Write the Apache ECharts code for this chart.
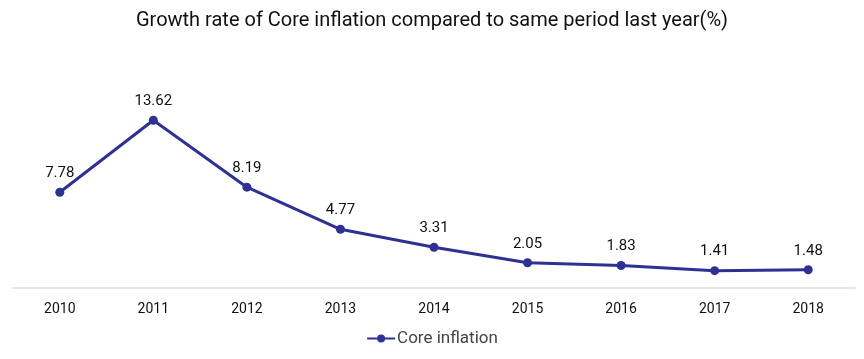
<!DOCTYPE html>
<html>
<head>
<meta charset="utf-8">
<script src="https://cdn.jsdelivr.net/npm/echarts@6/dist/echarts.min.js"></script>
<style>
html,body{margin:0;padding:0;background:#fff;}
#chart{width:864px;height:359px;}
</style>
</head>
<body>
<div id="chart"></div>
<script>
const categories = ['2010','2011','2012','2013','2014','2015','2016','2017','2018'];
const coreInflation = [7.78, 13.62, 8.19, 4.77, 3.31, 2.05, 1.83, 1.41, 1.48];
const titleText = 'Growth rate of Core inflation compared to same period last year(%)';
const seriesName = 'Core inflation';

const chart = echarts.init(document.getElementById('chart'), null, {renderer:'canvas'});
chart.setOption({
  animation:false,
  backgroundColor:'#fff',
  textStyle:{fontFamily:'Roboto'},
  title:{
    text:titleText, left:'center', top:6,
    textStyle:{fontFamily:'Roboto', fontSize:20, fontWeight:'normal', color:'#111'}
  },
  legend:{
    bottom:7, left:'center',
    itemWidth:28, itemHeight:10,
    textStyle:{fontFamily:'Roboto', fontSize:17, color:'#444', padding:[0,0,0,-3]},
    data:[seriesName]
  },
  grid:{left:13, right:9, top:91, bottom:71, containLabel:false},
  xAxis:{
    type:'category', data:categories, boundaryGap:true,
    axisLine:{lineStyle:{color:'#ddd', width:1.5}},
    axisTick:{show:false},
    axisLabel:{fontFamily:'Roboto', fontSize:14, color:'#111', margin:14}
  },
  yAxis:{
    type:'value', min:0, max:16, show:false,
    splitLine:{show:false}
  },
  series:[{
    name:seriesName, type:'line', data:coreInflation,
    symbol:'circle', symbolSize:9,
    lineStyle:{color:'#2E3192', width:3},
    itemStyle:{color:'#2E3192'},
    label:{show:true, position:'top', distance:7, fontFamily:'Roboto', fontSize:15, color:'#111'}
  }]
});
</script>
</body>
</html>
